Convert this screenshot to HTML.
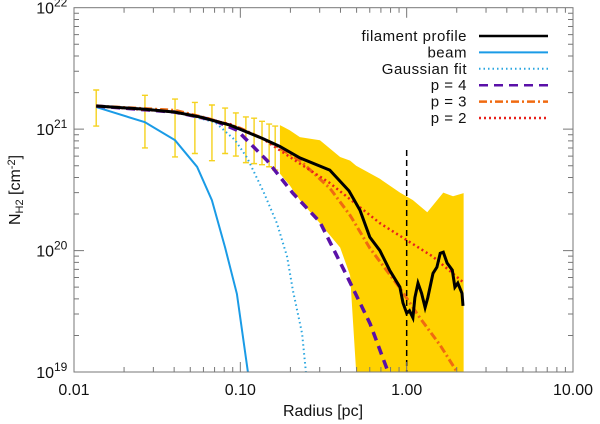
<!DOCTYPE html>
<html><head><meta charset="utf-8"><style>
html,body{margin:0;padding:0;background:#fff;width:600px;height:424px;overflow:hidden}
svg{display:block}
text{font-family:"Liberation Sans",sans-serif;fill:#111}
</style></head><body>
<svg id="chart" width="600" height="424" viewBox="0 0 600 424">
<defs><clipPath id="pc"><rect x="74" y="8" width="499" height="364"/></clipPath></defs>
<g id="plot" clip-path="url(#pc)"></g>
<g id="axes"></g>
<g id="legend"></g>
</svg>
<script>
// ---- data ----
const profR=[0.0136,0.0267,0.0405,0.0572,0.0866,0.107,0.135,0.173,0.228,0.345,0.45,0.524,0.6,0.69,0.79,0.91,0.95,1.0,1.04,1.09,1.12,1.17,1.23,1.29,1.34,1.44,1.52,1.59,1.66,1.75,1.88,1.95,2.03,2.15,2.18];
const profN=[1.55e21,1.46e21,1.38e21,1.26e21,1.08e21,9.6e20,8.4e20,7.2e20,5.8e20,4.6e20,3.1e20,2.15e20,1.29e20,1.0e20,6.9e19,5.0e19,3.7e19,3.05e19,3.2e19,2.8e19,4.1e19,5.4e19,4.45e19,3.4e19,4.1e19,6.5e19,7.3e19,9.5e19,9.7e19,7.9e19,6.9e19,5.0e19,5.4e19,4.45e19,3.5e19];
const beamR=[0.0136,0.0267,0.0405,0.055,0.0675,0.081,0.0954,0.111];
const beamN=[1.52e21,1.14e21,8.1e20,4.9e20,2.6e20,1.06e20,4.4e19,1e19];
const gaussR=[0.0136,0.0405,0.0705,0.093,0.11,0.137,0.166,0.191,0.207,0.235,0.248];
const gaussN=[1.55e21,1.38e21,1.14e21,8.1e20,5.8e20,3.1e20,1.68e20,8.9e19,4.7e19,2.07e19,1e19];
const p4R=[0.0136,0.0405,0.0686,0.0955,0.145,0.207,0.301,0.427,0.603,0.773];
const p4N=[1.55e21,1.38e21,1.19e21,9.8e20,5.5e20,2.97e20,1.72e20,6.6e19,2.5e19,1e19];
const p3R=[0.0136,0.0405,0.063,0.0996,0.151,0.229,0.346,0.457,0.603,0.912,1.2,1.59,2.01];
const p3N=[1.55e21,1.43e21,1.23e21,1.02e21,7.8e20,5.5e20,3.25e20,1.95e20,1.04e20,4.9e19,2.8e19,1.66e19,1e19];
const p2R=[0.0136,0.0405,0.0866,0.135,0.173,0.228,0.345,0.69,1.44,2.18];
const p2N=[1.55e21,1.38e21,1.10e21,8.4e20,6.7e20,5.2e20,3.6e20,1.68e20,8.9e19,5.5e19];
const barR=[0.0136,0.0267,0.0405,0.0533,0.0675,0.081,0.094,0.108,0.121,0.135,0.149,0.162];
const barHi=[2.1e21,1.9e21,1.77e21,1.66e21,1.58e21,1.49e21,1.36e21,1.26e21,1.23e21,1.16e21,1.10e21,1.06e21];
const barLo=[1.06e21,7.0e20,5.9e20,6.3e20,5.5e20,6.3e20,6.0e20,5.3e20,5.2e20,5.1e20,4.9e20,4.6e20];
const bandR=[0.173,0.198,0.228,0.301,0.398,0.457,0.497,0.69,0.912,1.09,1.33,1.44,1.66,1.90,2.2];
const bandHi=[1.08e21,9.8e20,8.6e20,8.1e20,5.9e20,5.5e20,5.0e20,3.9e20,3.0e20,2.6e20,2.07e20,2.36e20,3.0e20,2.8e20,2.97e20];
const bandLo=[4.3e20,3.45e20,2.6e20,1.68e20,1.06e20,6.25e19,1e19,1e19,1e19,1e19,1e19,1e19,1e19,1e19,1e19];
const refR=[1.0];
const xTicks=["0.01","0.10","1.00","10.00"];
const yExp=["19","20","21","22"];
// ---- axes ----
const X0=74,X1=573,Y0=372,Y1=7.7;
const xs=r=>X0+(Math.log10(r)+2)/3*(X1-X0);
const ys=n=>Y0-(Math.log10(n)-19)/3*(Y0-Y1);
const NS="http://www.w3.org/2000/svg";
function mk(tag,attrs,parent){const e=document.createElementNS(NS,tag);for(const k in attrs)e.setAttribute(k,attrs[k]);parent.appendChild(e);return e;}
const plot=document.getElementById('plot'),axes=document.getElementById('axes'),leg=document.getElementById('legend');
let pts=bandR.map((r,i)=>xs(r)+','+ys(bandHi[i]));
for(let i=bandR.length-1;i>=0;i--)pts.push(xs(bandR[i])+','+ys(bandLo[i]));
const band=mk('polygon',{points:pts.join(' '),fill:'#ffd200'},plot);


barR.forEach((r,i)=>{const x=xs(r),a=ys(barHi[i]),b=ys(barLo[i]);
 const g=mk('path',{d:`M${x},${a}V${b}M${x-3},${a}H${x+3}M${x-3},${b}H${x+3}`,stroke:'#f5d21e','stroke-width':1.4,fill:'none'},plot);
 
 });
function line(R,N,style,name){const d=R.map((r,i)=>(i?'L':'M')+xs(r).toFixed(1)+','+ys(N[i]).toFixed(1)).join('');
 const p=mk('path',Object.assign({d:d,fill:'none'},style),plot);
 
 }
const S={
 beam:{stroke:'#1a9be6','stroke-width':2},
 gauss:{stroke:'#2aa6e0','stroke-width':2,'stroke-dasharray':'1.5 3'},
 p4:{stroke:'#5a10a8','stroke-width':3.5,'stroke-dasharray':'9 6'},
 p3:{stroke:'#f06a10','stroke-width':3,'stroke-dasharray':'8 3 2 3'},
 p2:{stroke:'#e8201c','stroke-width':2.5,'stroke-dasharray':'2 3'},
 prof:{stroke:'#000','stroke-width':3}};
line(beamR,beamN,S.beam,'beam-line');
line(gaussR,gaussN,S.gauss,'gaussian-fit-line');
line(p4R,p4N,S.p4,'p4-fit-line');
line(p3R,p3N,S.p3,'p3-fit-line');
line(p2R,p2N,S.p2,'p2-fit-line');
line(profR,profN,S.prof,'filament-profile-line');
refR.forEach(r=>{const v=mk('line',{x1:xs(r),x2:xs(r),y1:150,y2:372,stroke:'#000','stroke-width':1.5,'stroke-dasharray':'6 4'},plot);
 
 });
mk('rect',{x:X0,y:Y1,width:X1-X0,height:Y0-Y1,fill:'none',stroke:'#777','stroke-width':1},axes);
let td='';
for(let d=0;d<3;d++)for(let m=1;m<=9;m++){const r=Math.pow(10,d-2)*m,x=xs(r),L=m==1?10:5;
 td+=`M${x},${Y0}v${-L}M${x},${Y1}v${L}`;
 const n=Math.pow(10,19+d)*m,y=ys(n);td+=`M${X0},${y}h${L}M${X1},${y}h${-L}`;}
mk('path',{d:td,stroke:'#777','stroke-width':1,fill:'none'},axes);
xTicks.forEach((t,i)=>{const e=mk('text',{x:X0+i*(X1-X0)/3,y:395,'text-anchor':'middle','font-size':16},axes);e.textContent=t;
 
 });
yExp.forEach((t,i)=>{const y=Y0-i*(Y0-Y1)/3;const e=mk('text',{x:54,y:y+6,'text-anchor':'end','font-size':16},axes);e.textContent='10';
 
 
 const s=mk('text',{x:54,y:y-1,'font-size':12},axes);s.textContent=t;});
const xt=mk('text',{x:323,y:416,'text-anchor':'middle','font-size':16},axes);xt.textContent='Radius [pc]';


const yt=mk('text',{transform:'translate(20,190) rotate(-90)','text-anchor':'middle','font-size':16},axes);
yt.innerHTML='N<tspan font-size="11" dy="3">H2</tspan><tspan dy="-3"> [cm</tspan><tspan font-size="11" dy="-5">-2</tspan><tspan dy="5">]</tspan>';


const labels=['filament profile','beam','Gaussian fit','p = 4','p = 3','p = 2'];
const ls=[S.prof,S.beam,S.gauss,S.p4,S.p3,S.p2];
labels.forEach((l,i)=>{const y=36+i*16.4;
 const t=mk('text',{x:467,y:y+5,'text-anchor':'end','font-size':15,'letter-spacing':'0.5'},leg);t.textContent=l;
 
 
 const st=Object.assign({},ls[i]);st['stroke-width']=Math.min(2.5,st['stroke-width']);
 const s=mk('line',Object.assign({x1:479,x2:548,y1:y,y2:y},st),leg);
 
 });
</script>
</body></html>
